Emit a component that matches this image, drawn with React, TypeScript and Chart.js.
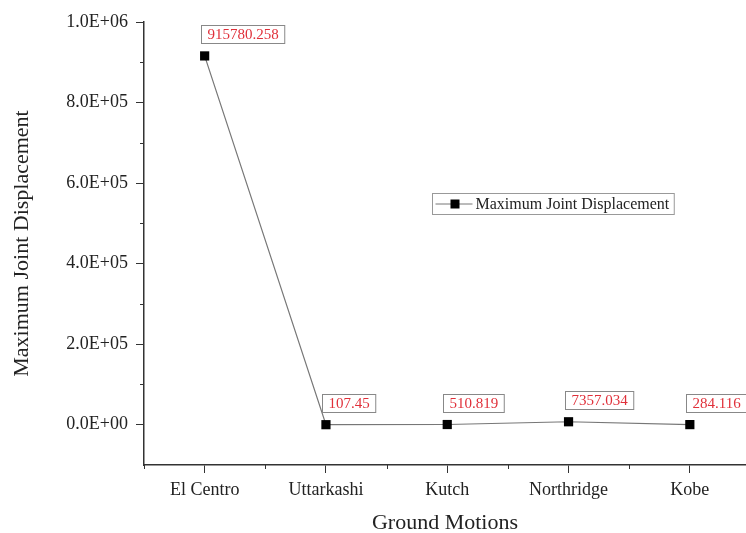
import React, { useEffect, useRef } from "react";
import { Chart, registerables } from "chart.js";

Chart.register(...registerables);

const categories = ["El Centro", "Uttarkashi", "Kutch", "Northridge", "Kobe"];
const displacement = [915780.258, 107.45, 510.819, 7357.034, 284.116];
const displacementLabels = ["915780.258", "107.45", "510.819", "7357.034", "284.116"];
const yTicks = [0, 200000, 400000, 600000, 800000, 1000000];
const seriesName = "Maximum Joint Displacement";
const xTitle = "Ground Motions";
const yTitle = "Maximum Joint Displacement";

const SERIF = "'Liberation Serif', 'Times New Roman', serif";

function sci(v: number): string {
  if (v === 0) return "0.0E+00";
  const e = Math.floor(Math.log10(Math.abs(v)));
  const m = v / Math.pow(10, e);
  const es = (e < 0 ? "-" : "+") + String(Math.abs(e)).padStart(2, "0");
  return m.toFixed(1) + "E" + es;
}

const extrasPlugin = {
  id: "extras",
  afterDraw(chart: any) {
    const ctx = chart.ctx;
    const xs = chart.scales.x;
    const ys = chart.scales.y;
    ctx.save();
    // minor ticks
    ctx.strokeStyle = "#333";
    ctx.lineWidth = 1;
    const yt = ys.ticks.map((t: any) => t.value);
    for (let i = 0; i < yt.length; i++) {
      const half = i === 0 ? yt[0] - (yt[1] - yt[0]) / 2 : (yt[i] + yt[i - 1]) / 2;
      const py = Math.round(ys.getPixelForValue(half)) + 0.5;
      if (py > ys.bottom - 1) continue;
      ctx.beginPath();
      ctx.moveTo(ys.right - 4, py);
      ctx.lineTo(ys.right, py);
      ctx.stroke();
    }
    const xt = xs.ticks.map((t: any) => t.value);
    for (let i = 0; i < xt.length; i++) {
      const half = xt[i] - 0.5;
      const px = Math.round(xs.getPixelForValue(half)) + 0.5;
      ctx.beginPath();
      ctx.moveTo(px, xs.top);
      ctx.lineTo(px, xs.top + 4);
      ctx.stroke();
    }
    // data labels
    const meta = chart.getDatasetMeta(0);
    ctx.font = "15px " + SERIF;
    ctx.textBaseline = "middle";
    ctx.textAlign = "left";
    meta.data.forEach((pt: any, i: number) => {
      const txt = displacementLabels[i];
      const w = ctx.measureText(txt).width + 12;
      const left = Math.round(pt.x - 4) + 0.5;
      const top = Math.round(pt.y - 31) + 0.5;
      ctx.fillStyle = "#fff";
      ctx.fillRect(left, top, w, 18);
      ctx.strokeStyle = "#888";
      ctx.lineWidth = 1;
      ctx.strokeRect(left, top, w, 18);
      ctx.fillStyle = "#e0303a";
      ctx.fillText(txt, left + 6, top + 10);
    });
    // legend
    ctx.font = "16px " + SERIF;
    const lx = 432.5, ly = 193.5;
    const tw = ctx.measureText(seriesName).width;
    const lw = tw + 48;
    ctx.strokeStyle = "#999";
    ctx.strokeRect(lx, ly, lw, 21);
    ctx.strokeStyle = "#777";
    ctx.beginPath();
    ctx.moveTo(lx + 3, ly + 10.5);
    ctx.lineTo(lx + 40, ly + 10.5);
    ctx.stroke();
    ctx.fillStyle = "#000";
    ctx.fillRect(lx + 18, ly + 6, 9, 9);
    ctx.fillStyle = "#222";
    ctx.fillText(seriesName, lx + 43, ly + 11.5);
    ctx.restore();
  },
};

export default function App() {
  const ref = useRef<HTMLCanvasElement | null>(null);
  useEffect(() => {
    if (!ref.current) return;
    Chart.defaults.font.family = SERIF;
    const chart = new Chart(ref.current, {
      type: "line",
      data: {
        datasets: [
          {
            label: seriesName,
            data: displacement.map((v, i) => ({ x: i, y: v })),
            borderColor: "#777",
            borderWidth: 1.2,
            pointStyle: "rect",
            pointRadius: 6.5,
            pointBackgroundColor: "#000",
            pointBorderColor: "#000",
            pointBorderWidth: 0,
            tension: 0,
            clip: false,
          },
        ],
      },
      options: {
        animation: false,
        responsive: false,
        layout: { autoPadding: false, padding: { top: 22, right: 0, left: 0, bottom: 0 } },
        plugins: { legend: { display: false }, tooltip: { enabled: false } },
        scales: {
          x: {
            type: "linear",
            min: -0.5,
            max: 4.463,
            afterBuildTicks: (s: any) => {
              s.ticks = categories.map((_, i) => ({ value: i }));
            },
            afterFit: (s: any) => {
              s.height = 68;
            },
            ticks: {
              autoSkip: false,
              maxRotation: 0,
              padding: 6,
              color: "#222",
              font: { size: 18, family: SERIF },
              callback: (v: any) => categories[v] ?? "",
            },
            grid: { display: true, drawOnChartArea: false, drawTicks: true, tickLength: 8, color: "#333" },
            border: { display: true, color: "#333", width: 1.5 },
            title: {
              display: true,
              text: xTitle,
              color: "#222",
              font: { size: 22, family: SERIF, lineHeight: 1 },
              padding: { top: 0, bottom: -1 },
            },
          },
          y: {
            type: "linear",
            min: -100000,
            max: 1000000,
            afterBuildTicks: (s: any) => {
              s.ticks = yTicks.map((v) => ({ value: v }));
            },
            afterFit: (s: any) => {
              s.width = 144;
            },
            ticks: {
              padding: 8,
              color: "#222",
              font: { size: 18, family: SERIF },
              callback: (v: any) => sci(Number(v)),
            },
            grid: { display: true, drawOnChartArea: false, drawTicks: true, tickLength: 8, color: "#333" },
            border: { display: true, color: "#333", width: 1.5 },
            title: {
              display: true,
              text: yTitle,
              color: "#222",
              font: { size: 22, family: SERIF, lineHeight: 1 },
              padding: { top: 11, bottom: 0 },
            },
          },
        },
      },
      plugins: [extrasPlugin],
    });
    return () => chart.destroy();
  }, []);
  return (
    <div style={{ position: "fixed", left: 0, top: 0, width: 746, height: 533, background: "#fff" }}>
      <canvas ref={ref} width={746} height={533} />
    </div>
  );
}
